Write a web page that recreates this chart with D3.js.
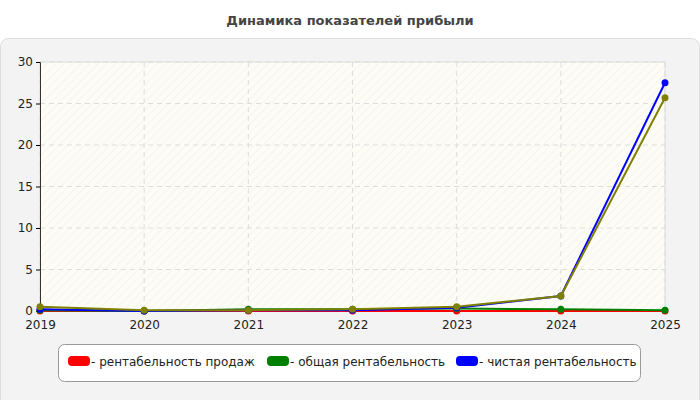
<!DOCTYPE html><html><head><meta charset="utf-8"><script src="https://cdn.jsdelivr.net/npm/d3@7"></script>
<style>body{margin:0;background:#fff}</style></head><body><svg id="c" width="700" height="400"></svg><script>
const years=["2019","2020","2021","2022","2023","2024","2025"];
const salesProfit=[0,0,0,0,0,0,0];
const totalProfit=[0.1,0,0.2,0.2,0.3,0.2,0.1];
const netProfit=[0.2,0,0.1,0.1,0.4,1.8,27.5];
const extraSeries=[0.5,0.1,0.1,0.2,0.5,1.8,25.7];
const yTicks=[0,5,10,15,20,25,30];
const legendNames=["- рентабельность продаж","- общая рентабельность","- чистая рентабельность"];
const svg=d3.select("#c"),F="'DejaVu Sans', Arial, sans-serif";
svg.append("text").attr("x",350).attr("y",25).attr("text-anchor","middle").attr("font-family",F).attr("font-size",13).attr("font-weight","bold").attr("fill","#444").text("Динамика показателей прибыли");
svg.append("rect").attr("x",0.5).attr("y",38.5).attr("width",699).attr("height",370).attr("rx",8).attr("fill","#f3f3f3").attr("stroke","#ddd");
const x=d3.scalePoint().domain(years).range([40,665]);
const y=d3.scaleLinear().domain([0,30]).range([311,62]);
const defs=svg.append("defs");
const p=defs.append("pattern").attr("id","h").attr("width",6).attr("height",6).attr("patternUnits","userSpaceOnUse").attr("patternTransform","rotate(45)");
p.append("rect").attr("width",6).attr("height",6).attr("fill","#fdfdf6");
p.append("line").attr("x1",0).attr("y1",0).attr("x2",0).attr("y2",6).attr("stroke","#eeeeea").attr("stroke-width",1);
svg.append("rect").attr("x",40).attr("y",62).attr("width",625).attr("height",249).attr("fill","url(#h)").attr("stroke","#ddd");
const g=svg.append("g");
g.selectAll(".gx").data(years).join("line").attr("x1",d=>x(d)).attr("x2",d=>x(d)).attr("y1",62).attr("y2",311).attr("stroke","#ddd").attr("stroke-dasharray","5,4");
g.selectAll(".gy").data(yTicks).join("line").attr("x1",40).attr("x2",665).attr("y1",d=>y(d)).attr("y2",d=>y(d)).attr("stroke","#ddd").attr("stroke-dasharray","5,4");
const ya=svg.append("g").attr("transform","translate(40,0)").call(d3.axisLeft(y).tickValues(yTicks).tickSize(4));
const xa=svg.append("g").attr("transform","translate(0,311)").call(d3.axisBottom(x).tickSize(0).tickPadding(9));
[ya,xa].forEach(a=>{a.selectAll("text").attr("font-family",F).attr("font-size",12).attr("fill","#222");a.select(".domain").attr("stroke","#333");});
xa.select(".domain").remove();
const series=[[salesProfit,"#ff0000"],[totalProfit,"#008000"],[netProfit,"#0000ff"],[extraSeries,"#808000"]];
const line=d3.line().x((d,i)=>x(years[i])).y(d=>y(d));
series.forEach(([d,c])=>{svg.append("path").datum(d).attr("d",line).attr("fill","none").attr("stroke",c).attr("stroke-width",2);
svg.selectAll(null).data(d).join("circle").attr("cx",(v,i)=>x(years[i])).attr("cy",v=>y(v)).attr("r",3.5).attr("fill",c);});
svg.append("rect").attr("x",58.5).attr("y",344.5).attr("width",582).attr("height",37).attr("rx",6).attr("fill","#fff").attr("stroke","#999");
const lx=[68,267,456],lc=["#ff0000","#008000","#0000ff"];
legendNames.forEach((n,i)=>{svg.append("rect").attr("x",lx[i]).attr("y",356).attr("width",22).attr("height",10).attr("rx",4).attr("fill",lc[i]);
svg.append("text").attr("x",lx[i]+23).attr("y",366).attr("font-family",F).attr("font-size",12).attr("fill","#222").text(n);});
</script></body></html>
